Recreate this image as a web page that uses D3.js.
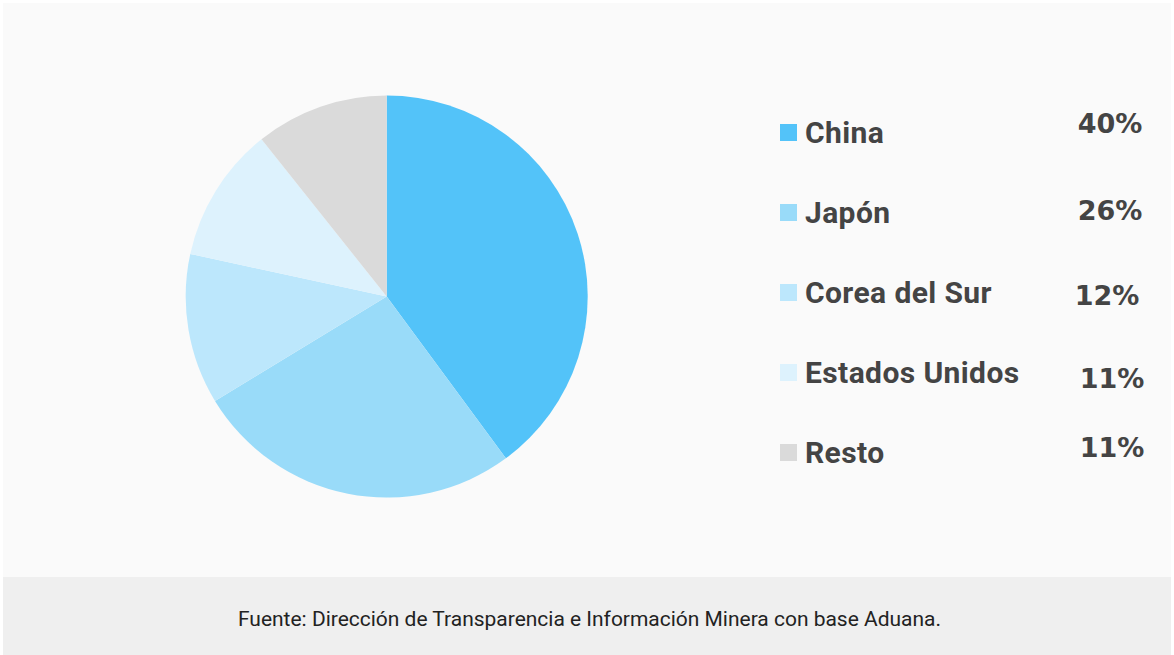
<!DOCTYPE html>
<html><head><meta charset="utf-8">
<script src="https://cdn.jsdelivr.net/npm/d3@7"></script>
<style>body{margin:0;background:#fff;}svg{display:block;}</style>
</head><body>
<svg id="c" width="1174" height="655"></svg>
<script>
const categories = ["China", "Japón", "Corea del Sur", "Estados Unidos", "Resto"];
const values = [39.9, 26.4, 12.1, 10.9, 10.7];
const valueLabels = ["40%", "26%", "12%", "11%", "11%"];
const colors = ["#53C3F9", "#99DBF9", "#BCE7FC", "#DDF2FD", "#DADADA"];
const source = "Fuente: Dirección de Transparencia e Información Minera con base Aduana.";

// layout only
const pctDy = [-10, -3, 2, 5, -6];
const pctDx = [0, 0, -3, 2, 2];

const svg = d3.select("#c");
svg.append("rect").attr("x",3).attr("y",3).attr("width",1168).attr("height",574).attr("fill","#FAFAFA");
svg.append("rect").attr("x",3).attr("y",577).attr("width",1168).attr("height",78).attr("fill","#EFEFEF");

const cx = 386.7, cy = 296.5, r = 201;
const pie = d3.pie().sort(null).value(d => d)(values);
const arc = d3.arc().innerRadius(0).outerRadius(r);
svg.append("g").attr("transform",`translate(${cx},${cy})`)
  .selectAll("path").data(pie).join("path")
  .attr("d", arc).attr("fill", (d,i) => colors[i]);

const rowY = d3.scalePoint().domain(categories).range([143, 463]);
const lg = svg.append("g");
const rows = lg.selectAll("g").data(categories).join("g");
rows.append("rect").attr("x",780).attr("y",d => rowY(d)-19).attr("width",17).attr("height",17)
  .attr("fill",(d,i)=>colors[i]);
rows.append("text").attr("x",805).attr("y",d=>rowY(d))
  .attr("font-family","Roboto, 'Open Sans', sans-serif").attr("font-weight",700)
  .attr("font-size",30).attr("letter-spacing",0.4).attr("fill","#444").text(d=>d);
rows.append("text").attr("x",(d,i)=>1110+pctDx[i]).attr("y",(d,i)=>rowY(d)+pctDy[i])
  .attr("text-anchor","middle")
  .attr("font-family","'DejaVu Sans', sans-serif").attr("font-weight",700)
  .attr("font-size",27).attr("fill","#444").text((d,i)=>valueLabels[i]);

svg.append("text").attr("x",238).attr("y",626)
  .attr("font-family","Roboto, sans-serif").attr("font-weight",400)
  .attr("font-size",20).attr("fill","#222")
  .attr("textLength",703).attr("lengthAdjust","spacingAndGlyphs")
  .text(source);
</script>
</body></html>
